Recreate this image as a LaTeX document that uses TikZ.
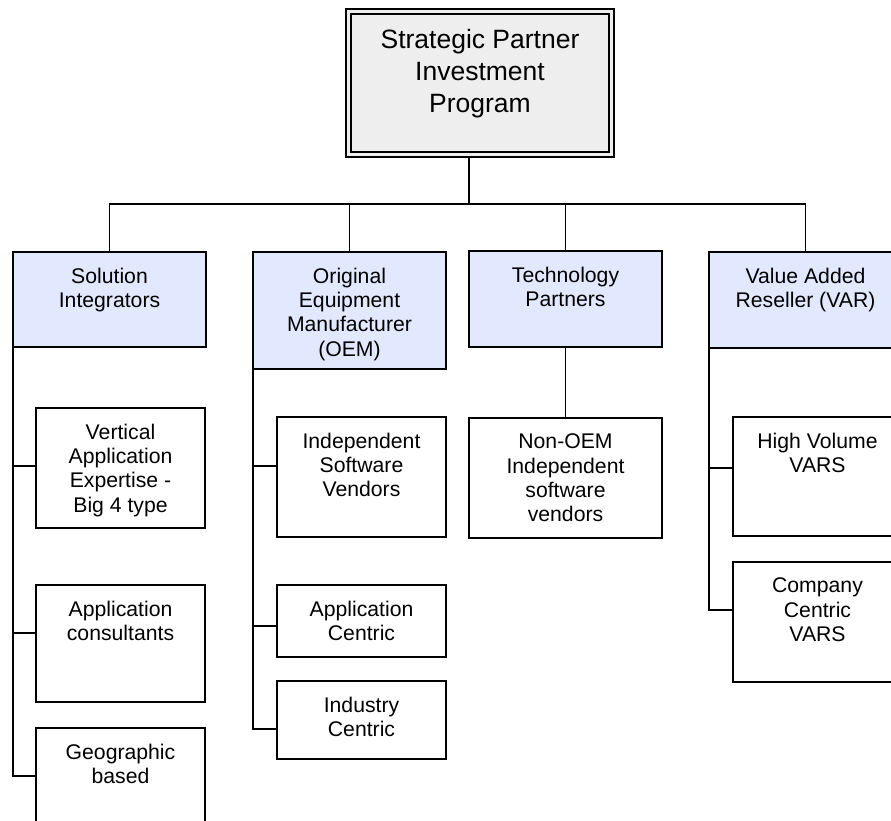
\documentclass[tikz,border=0pt]{standalone}
\usepackage{fontspec}
\setmainfont{Liberation Sans}
\definecolor{topgray}{RGB}{238,238,238}
\definecolor{catblue}{RGB}{226,232,254}
\begin{document}
\begin{tikzpicture}[x=1pt,y=-1pt,
  every node/.style={inner sep=0pt, outer sep=0pt},
  topbox/.style={draw, line width=2.2pt, fill=topgray, anchor=north west},
  catbox/.style={draw, line width=1.7pt, fill=catblue, anchor=north west, minimum width=193pt},
  subbox/.style={draw, line width=1.7pt, fill=white, anchor=north west, minimum width=169pt},
  toptext/.style={font=\fontsize{26.5}{32}\selectfont, align=center, anchor=north},
  boxtext/.style={font=\fontsize{21.2}{24.4}\selectfont, align=center, anchor=north},
  link/.style={line width=1.5pt}
]
\useasboundingbox (0,0) rectangle (891,820);

% top box
\node[topbox, minimum width=268pt, minimum height=148pt] (top) at (346,9) {};
\draw[line width=1.4pt] ([shift={(5pt,-5pt)}]top.north west) rectangle ([shift={(-5pt,5pt)}]top.south east);
\node[toptext] (top-t) at ([yshift=-20pt]top.north) {Strategic Partner\\Investment\\Program};

% categories
\node[catbox, minimum height=95pt] (si) at (13,252) {};
\node[catbox, minimum height=117pt] (oem) at (253,252) {};
\node[catbox, minimum height=96pt] (tp) at (469,251) {};
\node[catbox, minimum height=96pt] (var) at (709,252) {};
\node[boxtext] (si-t) at ([yshift=-15.8pt]si.north) {Solution\\Integrators};
\node[boxtext] (oem-t) at ([yshift=-15.8pt]oem.north) {Original\\Equipment\\Manufacturer\\(OEM)};
\node[boxtext] (tp-t) at ([yshift=-15.8pt]tp.north) {Technology\\Partners};
\node[boxtext] (var-t) at ([yshift=-15.8pt]var.north) {Value Added\\Reseller (VAR)};

% sub boxes
\node[subbox, minimum height=120pt] (si1) at (36,408) {};
\node[subbox, minimum height=117pt] (si2) at (36,585) {};
\node[subbox, minimum height=120pt] (si3) at (36,728) {};
\node[subbox, minimum height=120pt] (oem1) at (277,417) {};
\node[subbox, minimum height=72pt] (oem2) at (277,585) {};
\node[subbox, minimum height=78pt] (oem3) at (277,681) {};
\node[subbox, minimum width=193pt, minimum height=120pt] (tp1) at (469,418) {};
\node[subbox, minimum height=119pt] (var1) at (733,417) {};
\node[subbox, minimum height=120pt] (var2) at (733,562) {};

\node[boxtext] (si1-t) at ([yshift=-15.8pt]si1.north) {Vertical\\Application\\Expertise -\\Big 4 type};
\node[boxtext] (si2-t) at ([yshift=-15.8pt]si2.north) {Application\\consultants};
\node[boxtext] (si3-t) at ([yshift=-15.8pt]si3.north) {Geographic\\based};
\node[boxtext] (oem1-t) at ([yshift=-15.8pt]oem1.north) {Independent\\Software\\Vendors};
\node[boxtext] (oem2-t) at ([yshift=-15.8pt]oem2.north) {Application\\Centric};
\node[boxtext] (oem3-t) at ([yshift=-15.8pt]oem3.north) {Industry\\Centric};
\node[boxtext] (tp1-t) at ([yshift=-15.8pt]tp1.north) {Non-OEM\\Independent\\software\\vendors};
\node[boxtext] (var1-t) at ([yshift=-15.8pt]var1.north) {High Volume\\VARS};
\node[boxtext] (var2-t) at ([yshift=-15.8pt]var2.north) {Company\\Centric\\VARS};

% top connectors
\coordinate (hub) at (469,204);
\draw[link] (top.south -| hub) -- (hub);
\draw[link] (si.north) -- (si.north |- hub) -- (var.north |- hub) -- (var.north);
\draw[link] (oem.north) -- (oem.north |- hub);
\draw[link] (tp.north) -- (tp.north |- hub);

% junction points
\coordinate (j-si1) at ([yshift=-58pt]si1.north west);
\coordinate (j-si2) at ([yshift=-48pt]si2.north west);
\coordinate (j-si3) at ([yshift=-48pt]si3.north west);
\coordinate (j-oem1) at ([yshift=-49pt]oem1.north west);
\coordinate (j-oem2) at ([yshift=-41pt]oem2.north west);
\coordinate (j-oem3) at ([yshift=-48pt]oem3.north west);
\coordinate (j-var1) at ([yshift=-51pt]var1.north west);
\coordinate (j-var2) at ([yshift=-48pt]var2.north west);

% trunks
\draw[link] (si.south west) |- (j-si3);
\draw[link] (j-si1 -| si.south west) -- (j-si1);
\draw[link] (j-si2 -| si.south west) -- (j-si2);
\draw[link] (oem.south west) |- (j-oem3);
\draw[link] (j-oem1 -| oem.south west) -- (j-oem1);
\draw[link] (j-oem2 -| oem.south west) -- (j-oem2);
\draw[link] (tp.south) -- (tp1.north);
\draw[link] (var.south west) |- (j-var2);
\draw[link] (j-var1 -| var.south west) -- (j-var1);
\end{tikzpicture}
\end{document}
